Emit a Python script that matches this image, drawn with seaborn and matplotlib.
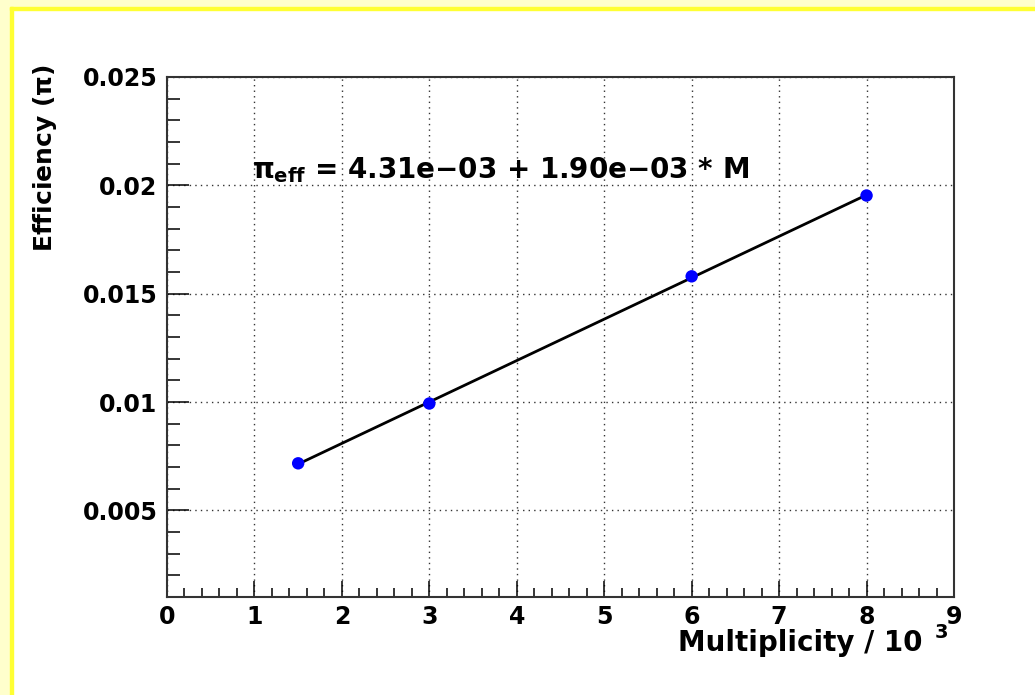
import numpy as np
import pandas as pd
import matplotlib
matplotlib.use("Agg")
import matplotlib.pyplot as plt
from matplotlib.patches import Rectangle
from matplotlib.ticker import MultipleLocator, FuncFormatter
import seaborn as sns

# data
multiplicity = [1.5, 3.0, 6.0, 8.0]          # / 10^3
efficiency = [0.00717, 0.00993, 0.01580, 0.01953]
fit_label = r"$\pi_{\mathbf{eff}}$ = 4.31e$-$03 + 1.90e$-$03 * M"
xticks = list(range(0, 10))
yticks = [0.005, 0.01, 0.015, 0.02, 0.025]

df = pd.DataFrame({"M": multiplicity, "eff": efficiency})

sns.set_style("ticks")
plt.rcParams["font.family"] = ["DejaVu Sans"]
plt.rcParams["font.weight"] = "bold"
plt.rcParams["text.color"] = "black"
plt.rcParams["mathtext.fontset"] = "custom"
plt.rcParams["mathtext.rm"] = "DejaVu Sans:bold"
plt.rcParams["mathtext.bf"] = "DejaVu Sans:bold"
plt.rcParams["mathtext.it"] = "DejaVu Sans"

W, H = 1035, 695
fig = plt.figure(figsize=(W / 100, H / 100), dpi=100)
fig.patch.set_facecolor("white")

# pale yellow canvas edge + yellow frame line (top and left only visible)
fig.patches.append(Rectangle((0, 0), 10 / W, 1, transform=fig.transFigure, color="#ffffcc", zorder=0))
fig.patches.append(Rectangle((0, 1 - 7 / H), 1, 7 / H, transform=fig.transFigure, color="#ffffcc", zorder=0))
fig.patches.append(Rectangle((10 / W, 0), 3 / W, 1 - 7 / H, transform=fig.transFigure, color="#ffff33", zorder=0))
fig.patches.append(Rectangle((10 / W, 1 - 10 / H), 1, 3 / H, transform=fig.transFigure, color="#ffff33", zorder=0))

ax = fig.add_axes([167 / W, 1 - 597 / H, (954 - 167) / W, (597 - 77) / H])

sns.regplot(data=df, x="M", y="eff", ax=ax, ci=None, truncate=True,
            scatter_kws=dict(color="#0000ff", s=80, zorder=3, edgecolor="none", alpha=1),
            line_kws=dict(color="black", lw=2.0, zorder=2))

ax.set_xlim(0, 9)
ax.set_ylim(0.001, 0.025)
ax.set_xticks(xticks)
ax.set_yticks(yticks)
ax.xaxis.set_minor_locator(MultipleLocator(0.2))
ax.yaxis.set_minor_locator(MultipleLocator(0.001))
ax.yaxis.set_major_formatter(FuncFormatter(lambda v, p: ("%.3f" % v).rstrip("0")))
ax.tick_params(axis="both", which="both", direction="in", width=1.1, colors="black",
               labelsize=17, top=False, right=False)
ax.tick_params(axis="y", which="major", length=16, pad=7)
ax.tick_params(axis="y", which="minor", length=9)
ax.tick_params(axis="x", which="major", length=11.5, pad=6)
ax.tick_params(axis="x", which="minor", length=6.5)
for lab in ax.get_xticklabels() + ax.get_yticklabels():
    lab.set_fontweight("bold")

ax.grid(True, which="major", color="#333333", linestyle=(0, (1, 3)), linewidth=1.0)
for s in ax.spines.values():
    s.set_visible(True)
    s.set_color("#333333")
    s.set_linewidth(1.5)

ax.set_xlabel("")
ax.set_ylabel("")
fig.text(45 / W, 1 - 64 / H, r"Efficiency ($\pi$)", rotation=90, ha="center", va="top",
         fontsize=18, fontweight="bold", color="black")
fig.text(922 / W, 1 - 651 / H, "Multiplicity / 10", ha="right", va="baseline",
         fontsize=20, fontweight="bold", color="black")
fig.text(935 / W, 1 - 638 / H, "3", ha="left", va="baseline", fontsize=14,
         fontweight="bold", color="black")

ax.text(0.108, 0.805, fit_label, transform=ax.transAxes, ha="left", va="baseline",
        fontsize=20, fontweight="bold", color="black")

fig.savefig("out.png", dpi=100)
